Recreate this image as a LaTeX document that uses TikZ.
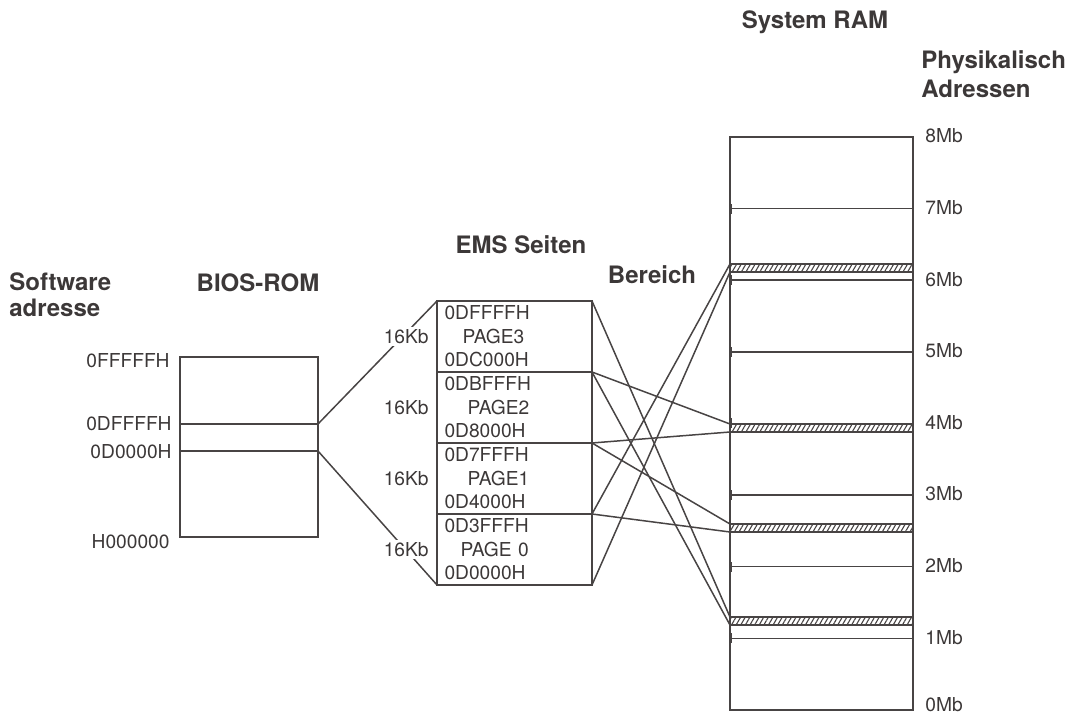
\documentclass[tikz,border=0pt]{standalone}
\usepackage{fontspec}
\setmainfont{TeX Gyre Heros}
\usepackage{tikz}
\usetikzlibrary{arrows.meta, positioning, calc, patterns.meta}
\definecolor{mytext}{RGB}{60,56,56}
\definecolor{myline}{RGB}{72,68,68}
\tikzset{
  membox/.style={rectangle, draw=myline, line width=1pt,
    inner sep=0pt, outer sep=0pt},
  pagebox/.style={membox, minimum width=77.5pt, minimum height=35.5pt,
    text width=70pt, align=left, inner ysep=1pt,
    font=\fontsize{9.6}{11.75}\selectfont, text=mytext},
  ramwin/.style={rectangle, draw=myline, line width=0.7pt,
    minimum width=91.5pt, minimum height=4pt, inner sep=0pt, outer sep=0pt,
    pattern={Lines[angle=60, distance=2pt, line width=0.55pt]}, pattern color=myline},
  title/.style={font=\bfseries\fontsize{12}{13}\selectfont, text=mytext,
    align=left, inner sep=1pt},
  addr/.style={font=\fontsize{9.6}{11.75}\selectfont, text=mytext, inner sep=1pt},
  maplink/.style={line width=0.75pt, color=myline},
  mbline/.style={{Bar[width=5pt]}-{Bar[width=5pt]}, line width=0.75pt, color=myline}
}

\begin{document}
\begin{tikzpicture}[x=0.5pt, y=-0.5pt]
  \useasboundingbox (0,0) rectangle (1073,716);

  % headings
  \node[title, anchor=west] (soft) at (7,295) {Software\\adresse};
  \node[title] (biostitle) at (258,283) {BIOS-ROM};
  \node[title] (emstitle) at (521,245) {EMS Seiten};
  \node[title] (bereich) at (652,275) {Bereich};
  \node[title] (ramtitle) at (815,22) {System RAM};
  \node[title, anchor=west, font=\bfseries\fontsize{12}{14.5}\selectfont] (phys) at (919,74) {Physikalisch\\Adressen};

  % BIOS-ROM
  \node[membox, minimum width=69pt, minimum height=90pt] (bios) at (249,447) {};
  \node[membox, minimum width=69pt, minimum height=13.5pt] (bioswin) at (249,437.5) {};
  \node[addr, anchor=east] (atop) at ($(bios.north west)+(-8,4)$) {0FFFFFH};
  \node[addr, anchor=east] (awintop) at ($(bioswin.north west)+(-6,0)$) {0DFFFFH};
  \node[addr, anchor=east] (awinbot) at ($(bioswin.south west)+(-6,1)$) {0D0000H};
  \node[addr, anchor=east] (abot) at ($(bios.south west)+(-8,5)$) {H000000};

  % EMS pages
  \node[pagebox, anchor=north west] (p3) at (437,301) {0DFFFFH\\\hspace*{9pt}PAGE3\\0DC000H};
  \node[pagebox, below=0pt of p3] (p2) {0DBFFFH\\\hspace*{11.5pt}PAGE2\\0D8000H};
  \node[pagebox, below=0pt of p2] (p1) {0D7FFFH\\\hspace*{11.5pt}PAGE1\\0D4000H};
  \node[pagebox, below=0pt of p1] (p0) {0D3FFFH\\\hspace*{8pt}PAGE 0\\0D0000H};

  % BIOS window to pages
  \draw[maplink] (bioswin.north east) -- (p3.north west);
  \draw[maplink] (bioswin.south east) -- (p0.south west);
  \foreach \p in {0,...,3}
    \node[addr, fill=white, left=3pt of p\p] (kb\p) {16Kb};

  % System RAM
  \node[membox, minimum width=91.5pt, minimum height=286.5pt, anchor=north west] (ram) at (730,137) {};
  \foreach \m in {1,...,7}
    \draw[mbline] ($(ram.south west)!{\m/8}!(ram.north west)$) -- ($(ram.south east)!{\m/8}!(ram.north east)$);
  \foreach \m in {1,...,8}
    \node[addr, anchor=west] (mb\m) at ($(ram.south east)!{\m/8}!(ram.north east)+(10,-1)$) {\m Mb};
  \node[addr, anchor=west] (mb0) at ($(ram.south east)+(10,-5)$) {0Mb};

  % mapped windows
  \node[ramwin, anchor=west] (win6) at (730,268) {};
  \node[ramwin, anchor=west] (win4) at (730,428) {};
  \node[ramwin, anchor=west] (win25) at (730,528) {};
  \node[ramwin, anchor=west] (win1) at (730,621) {};

  % pages to RAM
  \draw[maplink] (p3.north east) -- (win1.north west);
  \draw[maplink] (p3.south east) -- (win1.south west);
  \draw[maplink] (p2.north east) -- (win4.north west);
  \draw[maplink] (p2.south east) -- (win4.south west);
  \draw[maplink] (p1.north east) -- (win25.north west);
  \draw[maplink] (p1.south east) -- (win25.south west);
  \draw[maplink] (p0.north east) -- (win6.north west);
  \draw[maplink] (p0.south east) -- (win6.south west);
\end{tikzpicture}
\end{document}
